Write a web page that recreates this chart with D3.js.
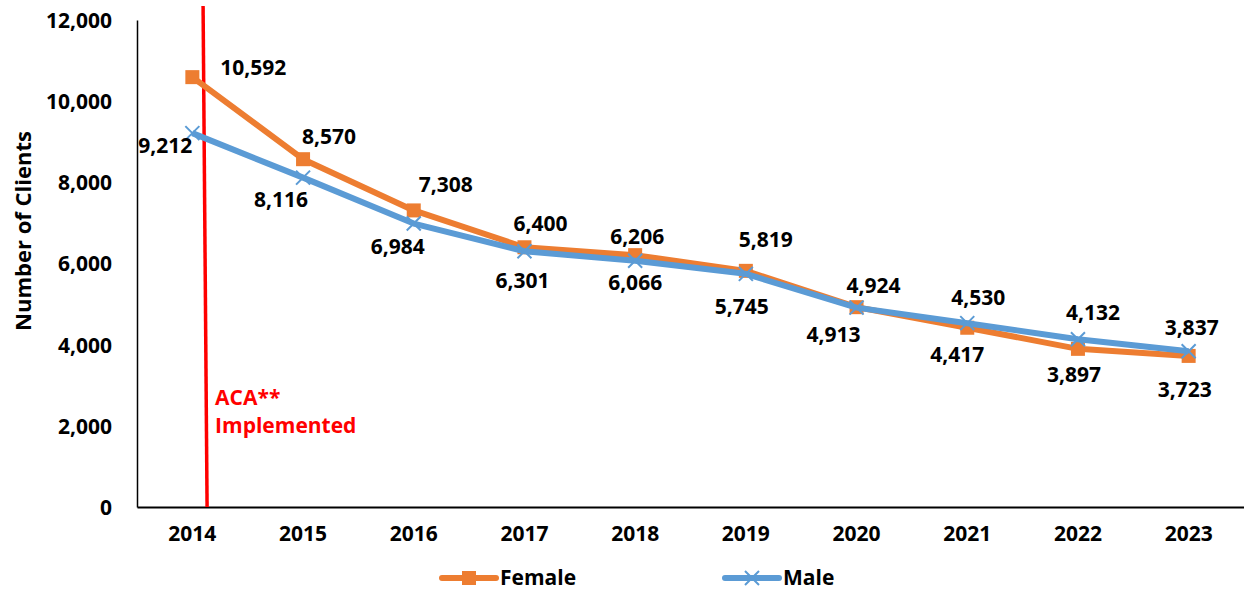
<!DOCTYPE html>
<html>
<head>
	<meta charset="utf-8">
	<script src="https://d3js.org/d3.v7.min.js"></script>
	<style>
		body { margin: 0; background: #fff; }
		text {
			font-family: "Open Sans", Lato, sans-serif;
			font-weight: bold;
			font-size: 21px;
			fill: #000;
		}
	</style>
</head>
<body>
	<svg width="1244" height="592"></svg>

	<script>
		var years = ['2014', '2015', '2016', '2017', '2018', '2019', '2020', '2021', '2022', '2023'];
		var female = [10592, 8570, 7308, 6400, 6206, 5819, 4924, 4417, 3897, 3723];
		var male = [9212, 8116, 6984, 6301, 6066, 5745, 4913, 4530, 4132, 3837];
		var yTicks = [0, 2000, 4000, 6000, 8000, 10000, 12000];

		// label offsets from each point (layout only)
		var femaleOffsets = [[61, -9], [26, -23], [32, -26], [16, -24], [2, -18], [20, -31], [17, -22], [-10, 27], [-4, 26], [-4, 34]];
		var maleOffsets = [[-27, 13], [-22, 22], [-16, 23], [-2, 29], [0, 22], [-4, 33], [-23, 27], [11, -26], [15, -27], [3, -24]];

		var svg = d3.select('svg');
		var plotLeft = 137, plotRight = 1244, plotTop = 20, plotBottom = 507;

		var x = d3.scaleBand().domain(years).range([plotLeft, plotRight]);
		var y = d3.scaleLinear().domain([0, 12000]).range([plotBottom, plotTop]);
		var cx = function(d, i) { return x(years[i]) + x.bandwidth() / 2; };
		var fmt = d3.format(',');

		// y axis
		var yAxis = svg.append('g')
			.attr('transform', 'translate(' + plotLeft + ',0)')
			.call(d3.axisLeft(y).tickValues(yTicks).tickSize(0).tickPadding(25).tickFormat(fmt));
		yAxis.select('.domain').attr('stroke', '#000').attr('stroke-width', 1.5);
		yAxis.selectAll('text').attr('font-size', null).attr('font-family', null).attr('dy', '0.35em');

		// x axis
		var xAxis = svg.append('g')
			.attr('transform', 'translate(0,' + plotBottom + ')')
			.call(d3.axisBottom(x).tickSize(0).tickPadding(19));
		xAxis.select('.domain').attr('stroke', '#000').attr('stroke-width', 2);
		xAxis.selectAll('text').attr('font-size', null).attr('font-family', null);

		svg.append('text')
			.attr('transform', 'translate(31,231) rotate(-90)')
			.attr('text-anchor', 'middle')
			.style('font-size', '22px')
			.text('Number of Clients');

		// ACA line
		var acaX = x('2014') + x.bandwidth() * 0.615;
		svg.append('line')
			.attr('x1', acaX - 2).attr('y1', 6)
			.attr('x2', acaX + 2).attr('y2', plotBottom)
			.attr('stroke', '#ff0000').attr('stroke-width', 3.5);
		svg.append('text').attr('x', acaX + 10).attr('y', 405).style('fill', '#ff0000').text('ACA**');
		svg.append('text').attr('x', acaX + 10).attr('y', 433).style('fill', '#ff0000').text('Implemented');

		var line = d3.line().x(cx).y(function(d) { return y(d); });

		function marker(g, type, px, py, color) {
			if (type === 'square') {
				g.append('rect').attr('x', px - 7).attr('y', py - 7).attr('width', 14).attr('height', 14).attr('fill', color);
			} else {
				g.append('path')
					.attr('d', 'M' + (px - 7) + ',' + (py - 7) + 'L' + (px + 7) + ',' + (py + 7) + 'M' + (px - 7) + ',' + (py + 7) + 'L' + (px + 7) + ',' + (py - 7))
					.attr('stroke', color).attr('stroke-width', 2);
			}
		}

		function drawSeries(vals, color, type, offsets) {
			var g = svg.append('g');
			g.append('path').datum(vals)
				.attr('d', line)
				.attr('fill', 'none')
				.attr('stroke', color)
				.attr('stroke-width', 6)
				.attr('stroke-linejoin', 'round');
			vals.forEach(function(v, i) {
				var px = cx(v, i), py = y(v);
				marker(g, type, px, py, color);
				g.append('text')
					.attr('x', px + offsets[i][0])
					.attr('y', py + offsets[i][1])
					.attr('dy', '0.35em')
					.attr('text-anchor', 'middle')
					.text(fmt(v));
			});
		}

		drawSeries(female, '#ED7D31', 'square', femaleOffsets);
		drawSeries(male, '#5B9BD5', 'x', maleOffsets);

		// legend
		var legend = [{ name: 'Female', color: '#ED7D31', type: 'square', x: 442 }, { name: 'Male', color: '#5B9BD5', type: 'x', x: 725 }];
		legend.forEach(function(l) {
			var ly = 578;
			svg.append('line').attr('x1', l.x).attr('x2', l.x + 54).attr('y1', ly).attr('y2', ly)
				.attr('stroke', l.color).attr('stroke-width', 6).attr('stroke-linecap', 'round');
			marker(svg, l.type, l.x + 27, ly, l.color);
			svg.append('text').attr('x', l.x + 58).attr('y', ly).attr('dy', '0.35em').text(l.name);
		});
	</script>
</body>
</html>
